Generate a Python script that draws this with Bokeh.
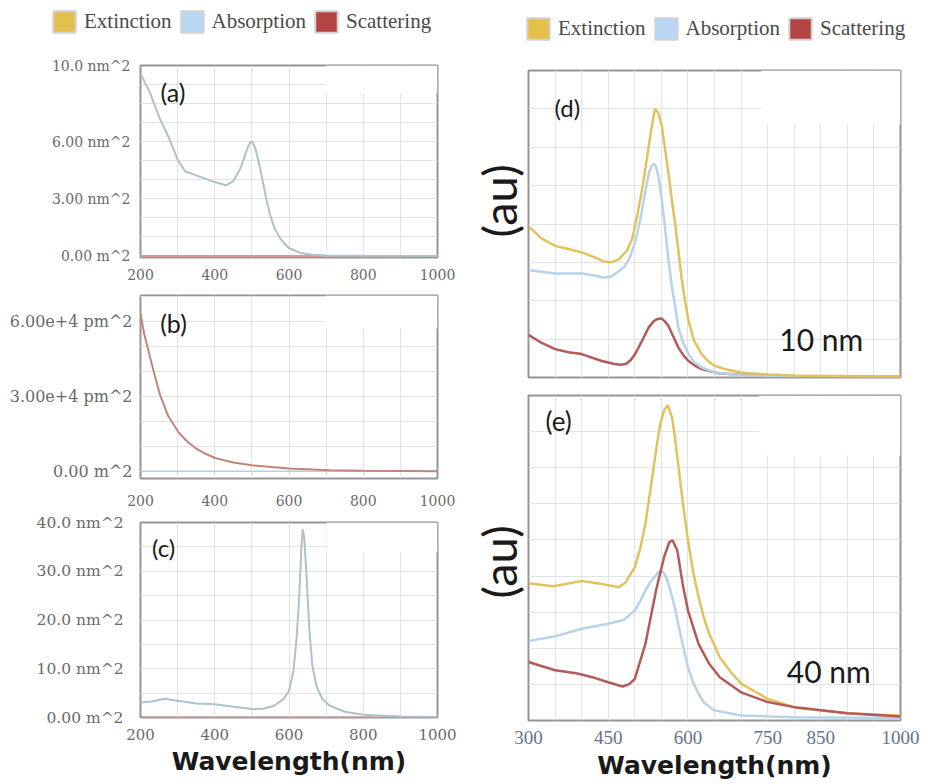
from bokeh.plotting import figure
from bokeh.layouts import row, column
from bokeh.models import (Range1d, FixedTicker, SingleIntervalTicker, Legend, LegendItem,
                          Label, BoxAnnotation, Title)
from bokeh.embed import file_html
from bokeh.resources import INLINE

# ---------------- data ----------------
series_names = ["Extinction", "Absorption", "Scattering"]

# panel (a)
a_wl = [200, 225, 250, 275, 300, 320, 350, 400, 430, 450, 470, 480, 490, 497, 503, 510, 520,
        530, 540, 550, 560, 575, 590, 600, 630, 660, 700, 800, 1000]
a_abs = [9.57, 8.6, 7.3, 6.27, 5.06, 4.45, 4.23, 3.88, 3.71, 3.93, 4.63, 5.2, 5.75, 6.0, 5.95, 5.6, 4.8,
         3.85, 2.9, 2.1, 1.5, 0.95, 0.6, 0.42, 0.17, 0.07, 0.03, 0.01, 0.0]
a_sca_wl = [200, 1000]
a_sca = [0.0, 0.0]
a_yticks = [0, 3, 6, 10]
a_ylabels = ["0.00 m^2", "3.00 nm^2", "6.00 nm^2", "10.0 nm^2"]

# panel (b)
b_wl = [200, 210, 227, 240, 253, 275, 302, 325, 350, 375, 401, 450, 500, 600, 710, 800, 900, 1000]
b_sca = [63000, 55000, 45000, 37500, 30400, 22000, 15700, 12000, 9100, 7000, 5300, 3500, 2400,
         1100, 400, 200, 100, 0]
b_abs_wl = [200, 1000]
b_abs = [0.0, 0.0]
b_yticks = [0, 30000, 60000]
b_ylabels = ["0.00 m^2", "3.00e+4 pm^2", "6.00e+4 pm^2"]

# panel (c)
c_wl = [200, 230, 265, 300, 350, 400, 450, 500, 530, 560, 585, 600, 612, 620, 627, 633, 637, 641,
        647, 655, 663, 675, 690, 710, 750, 800, 900, 1000]
c_abs = [3.09, 3.3, 3.84, 3.43, 2.88, 2.74, 2.2, 1.72, 1.78, 2.4, 3.77, 5.49, 9.6, 15.8, 24.0, 34.3,
         38.6, 37.0, 29.5, 17.8, 10.6, 6.2, 3.8, 2.4, 1.17, 0.55, 0.2, 0.12]
c_sca_wl = [200, 1000]
c_sca = [0.0, 0.0]
c_yticks = [0, 10, 20, 30, 40]
c_ylabels = ["0.00 m^2", "10.0 nm^2", "20.0 nm^2", "30.0 nm^2", "40.0 nm^2"]

abc_xticks = [200, 400, 600, 800, 1000]

# panel (d) 10 nm
d_ext_wl = [300, 325, 350, 375, 400, 425, 440, 455, 470, 485, 495, 505, 515, 525, 532, 538, 544, 551,
            557, 563, 570, 576, 582, 588, 595, 601, 612, 626, 640, 651, 675, 700, 750, 800, 900, 1000]
d_ext = [3.94, 3.62, 3.43, 3.35, 3.26, 3.13, 3.03, 3.0, 3.08, 3.3, 3.6, 4.25, 5.0, 5.9, 6.55, 7.0, 6.9,
         6.55, 5.95, 5.35, 4.6, 4.0, 3.3, 2.6, 1.95, 1.48, 0.95, 0.6, 0.4, 0.3, 0.2, 0.13, 0.08, 0.05,
         0.03, 0.02]
d_abs_wl = [300, 350, 400, 425, 442, 455, 465, 480, 490, 500, 510, 518, 526, 531, 535, 540, 545, 551,
            557, 563, 570, 576, 582, 590, 601, 612, 626, 651, 700, 800, 1000]
d_abs = [2.8, 2.71, 2.71, 2.66, 2.6, 2.63, 2.72, 2.88, 3.1, 3.5, 4.1, 4.7, 5.3, 5.5, 5.57, 5.5, 5.2, 4.6,
         3.9, 3.1, 2.35, 1.85, 1.3, 0.95, 0.61, 0.4, 0.26, 0.13, 0.06, 0.03, 0.02]
d_sca_wl = [300, 325, 350, 375, 400, 438, 460, 473, 483, 492, 500, 507, 517, 526, 535, 541, 550, 556,
            563, 572, 582, 592, 601, 613, 626, 657, 700, 800, 1000]
d_sca = [1.11, 0.9, 0.74, 0.66, 0.61, 0.43, 0.36, 0.33, 0.35, 0.45, 0.6, 0.78, 1.05, 1.3, 1.46, 1.52,
         1.54, 1.47, 1.35, 1.08, 0.78, 0.57, 0.43, 0.31, 0.22, 0.11, 0.07, 0.04, 0.02]

# panel (e) 40 nm
e_ext_wl = [300, 346, 400, 435, 470, 483, 500, 510, 520, 530, 540, 547, 555, 562, 570, 575, 580, 590,
            600, 610, 620, 630, 640, 660, 680, 700, 750, 800, 900, 1000]
e_ext = [3.8, 3.72, 3.86, 3.79, 3.69, 3.83, 4.25, 4.75, 5.45, 6.45, 7.48, 8.15, 8.59, 8.73, 8.4, 7.9,
         7.3, 6.09, 4.99, 4.1, 3.42, 2.85, 2.4, 1.75, 1.35, 1.02, 0.6, 0.37, 0.2, 0.14]
e_abs_wl = [300, 350, 400, 450, 480, 500, 510, 520, 530, 540, 545, 550, 555, 560, 567, 575, 582, 590,
            600, 610, 620, 630, 650, 700, 800, 1000]
e_abs = [2.2, 2.33, 2.54, 2.68, 2.79, 3.05, 3.3, 3.6, 3.85, 4.02, 4.12, 4.15, 4.08, 3.92, 3.6, 3.14,
         2.65, 2.12, 1.48, 1.05, 0.74, 0.5, 0.28, 0.14, 0.09, 0.07]
e_sca_wl = [300, 350, 390, 420, 450, 477, 489, 500, 520, 540, 555, 565, 571, 580, 590, 600, 620, 640,
            660, 700, 750, 800, 900, 1000]
e_sca = [1.62, 1.39, 1.31, 1.2, 1.06, 0.94, 1.0, 1.15, 2.12, 3.6, 4.52, 4.94, 4.99, 4.71, 3.79, 3.05,
         2.12, 1.57, 1.2, 0.78, 0.51, 0.37, 0.2, 0.11]
e_xticks = [300, 450, 600, 750, 850, 1000]
e_xlabels = ["300", "450", "600", "750", "850", "1000"]

# ---------------- styles ----------------
EXT = "#e2c25c"
ABS = "#b8d2ec"
SCA = "#b45a5a"
LEG_FILL = ["#e5bf4c", "#b9d7f4", "#b54444"]
GRID = "#e3e3e3"
FRAME = "#959595"
TICK_COLOR = "#6a6a6a"


def base(width, height, xr, yr, ml, mr, mt, mb, xloc="below", yloc="left"):
    p = figure(width=width, height=height, x_range=Range1d(*xr), y_range=Range1d(*yr),
               min_border_left=ml, min_border_right=mr, min_border_top=mt, min_border_bottom=mb,
               x_axis_location=xloc, y_axis_location=yloc, toolbar_location=None,
               output_backend="svg", outline_line_color=FRAME, outline_line_width=2,
               background_fill_color="white", border_fill_color="white")
    p.grid.grid_line_color = GRID
    p.grid.grid_line_width = 1
    for ax in p.axis:
        ax.axis_line_color = None
        ax.major_tick_line_color = None
        ax.minor_tick_line_color = None
        ax.major_label_text_font = "DejaVu Serif"
        ax.major_label_text_color = TICK_COLOR
        ax.major_label_text_font_style = "normal"
    return p


def patch(p, l, r, b, t):
    p.add_layout(BoxAnnotation(left=l, right=r, bottom=b, top=t, fill_color="white", fill_alpha=1.0,
                               line_color=None, level="underlay"))


def legend_fig(width, loc):
    lf = figure(width=width, height=55, x_range=Range1d(0, 1), y_range=Range1d(0, 1), min_border=0,
                x_axis_location=None, y_axis_location=None, toolbar_location=None,
                output_backend="svg", outline_line_color=None, border_fill_color="white",
                background_fill_alpha=0)
    lf.grid.visible = False
    rs = []
    for name, fill, wl, vals in zip(series_names, LEG_FILL, [d_ext_wl, d_abs_wl, d_sca_wl],
                                    [d_ext, d_abs, d_sca]):
        r = lf.quad(left=wl, right=wl, bottom=0, top=vals, fill_color=fill, line_color="#d2d2d2",
                    line_width=2, visible=False)
        rs.append(LegendItem(label=name, renderers=[r]))
    leg = Legend(items=rs, orientation="horizontal", location=loc, glyph_width=28,
                 glyph_height=27, label_standoff=6, spacing=6, padding=0, margin=0,
                 border_line_color=None, background_fill_alpha=0,
                 label_text_font="Liberation Serif", label_text_font_size="21px",
                 label_text_color="#4a4a4a")
    lf.add_layout(leg, "center")
    return lf


def panel_label(p, x, y, text, size):
    p.add_layout(Label(x=x, y=y, text=text, text_font="Lato", text_font_size=size,
                       text_baseline="middle", text_align="left", text_color="#1a1a1a"))


# ---------------- legends ----------------
legL = legend_fig(460, (50, 20))
legR = legend_fig(472, (64, 13))

# ---------------- left column ----------------
pa = base(460, 228, (200, 1000), (-0.08, 10.0), 140, 23, 10, 26)
pa.xgrid.ticker = SingleIntervalTicker(interval=100)
pa.ygrid.ticker = SingleIntervalTicker(interval=1)
pa.xaxis.ticker = FixedTicker(ticks=abc_xticks)
pa.yaxis.ticker = FixedTicker(ticks=a_yticks)
pa.yaxis.major_label_overrides = dict(zip(a_yticks, a_ylabels))
pa.axis.major_label_text_font_size = "14px"
pa.xaxis.major_label_standoff = 5
pa.yaxis.major_label_standoff = 4
patch(pa, 699, 1000, 8.54, 10.0)
pa.line(a_sca_wl, a_sca, line_color="#d49a9a", line_width=2)
pa.line(a_wl, a_abs, line_color="#adc2cd", line_width=2)
panel_label(pa, 254, 8.6, "(a)", "25px")

pb = base(460, 227, (200, 1000), (-2900, 70400), 140, 18, 12, 32)
pb.xgrid.ticker = SingleIntervalTicker(interval=100)
pb.ygrid.ticker = SingleIntervalTicker(interval=10000)
pb.xaxis.ticker = FixedTicker(ticks=abc_xticks)
pb.yaxis.ticker = FixedTicker(ticks=b_yticks)
pb.yaxis.major_label_overrides = dict(zip(b_yticks, b_ylabels))
pb.yaxis.major_label_text_font_size = "16px"
pb.xaxis.major_label_text_font_size = "14px"
pb.xaxis.major_label_standoff = 10
pb.yaxis.major_label_standoff = 2
patch(pb, 698, 1000, 57200, 70400)
pb.line(b_abs_wl, b_abs, line_color="#b7cde3", line_width=1.5)
pb.line(b_wl, b_sca, line_color="#c2857a", line_width=2)
panel_label(pb, 253, 59200, "(b)", "25px")

pc = base(460, 274, (200, 1000), (0, 40), 140, 12, 12, 67)
pc.xgrid.ticker = SingleIntervalTicker(interval=100)
pc.ygrid.ticker = SingleIntervalTicker(interval=5)
pc.xaxis.ticker = FixedTicker(ticks=abc_xticks)
pc.yaxis.ticker = FixedTicker(ticks=c_yticks)
pc.yaxis.major_label_overrides = dict(zip(c_yticks, c_ylabels))
pc.axis.major_label_text_font_size = "15.5px"
pc.xaxis.major_label_text_font_size = "15px"
pc.xaxis.major_label_standoff = 5
pc.yaxis.major_label_standoff = 11
pc.xaxis.axis_label = "Wavelength(nm)"
pc.xaxis.axis_label_text_font = "DejaVu Sans"
pc.xaxis.axis_label_text_font_style = "bold"
pc.xaxis.axis_label_text_font_size = "25px"
pc.xaxis.axis_label_text_color = "#1a1a1a"
pc.xaxis.axis_label_standoff = 4
patch(pc, 701, 1000, 33.9, 40)
pc.line(c_sca_wl, c_sca, line_color="#d49a9a", line_width=2)
pc.line(c_wl, c_abs, line_color="#adc2cd", line_width=2)
panel_label(pc, 231, 34.9, "(c)", "24px")

# ---------------- right column ----------------
pdd = base(472, 330, (300, 1000), (0, 8), 66, 32, 15, 8, xloc=None, yloc=None)
pdd.xgrid.ticker = SingleIntervalTicker(interval=50)
pdd.ygrid.ticker = SingleIntervalTicker(interval=1)
patch(pdd, 738, 1000, 6.6, 8)
pdd.line(d_sca_wl, d_sca, line_color=SCA, line_width=2.5)
pdd.line(d_abs_wl, d_abs, line_color=ABS, line_width=2.5)
pdd.line(d_ext_wl, d_ext, line_color=EXT, line_width=2.5)
panel_label(pdd, 349, 7.03, "(d)", "24px")
pdd.add_layout(Label(x=772, y=1.0, text="10 nm", text_font="Lato", text_font_size="30px",
                     text_baseline="middle", text_align="left", text_color="#1a1a1a"))
pdd.add_layout(Title(text="(au)", align="left", offset=140, vertical_align="bottom", standoff=4,
                     text_font="Lato", text_font_size="47px", text_font_style="normal",
                     text_color="#1a1a1a"), "left")

pe = base(472, 399, (300, 1000), (0, 9), 68, 27, 10, 64, yloc=None)
pe.xgrid.ticker = SingleIntervalTicker(interval=50)
pe.ygrid.ticker = SingleIntervalTicker(interval=1)
pe.xaxis.ticker = FixedTicker(ticks=e_xticks)
pe.xaxis.major_label_overrides = dict(zip(e_xticks, e_xlabels))
pe.xaxis.major_label_text_font = "Liberation Serif"
pe.xaxis.major_label_text_font_size = "19px"
pe.xaxis.major_label_text_color = "#65748a"
pe.xaxis.major_label_standoff = 4
pe.xaxis.axis_label = "Wavelength(nm)"
pe.xaxis.axis_label_text_font = "DejaVu Sans"
pe.xaxis.axis_label_text_font_style = "bold"
pe.xaxis.axis_label_text_font_size = "25px"
pe.xaxis.axis_label_text_color = "#1a1a1a"
pe.xaxis.axis_label_standoff = 4
patch(pe, 734, 1000, 7.34, 9)
pe.line(e_ext_wl, e_ext, line_color=EXT, line_width=2.5)
pe.line(e_abs_wl, e_abs, line_color=ABS, line_width=2.5)
pe.line(e_sca_wl, e_sca, line_color=SCA, line_width=2.5)
panel_label(pe, 332, 8.3, "(e)", "26px")
pe.add_layout(Label(x=786, y=1.36, text="40 nm", text_font="Lato", text_font_size="30px",
                    text_baseline="middle", text_align="left", text_color="#1a1a1a"))
pe.add_layout(Title(text="(au)", align="left", offset=122, vertical_align="bottom", standoff=4,
                    text_font="Lato", text_font_size="47px", text_font_style="normal",
                    text_color="#1a1a1a"), "left")

top = row(legL, legR, spacing=0)
left = column(pa, pb, pc, spacing=0)
right = column(pdd, pe, spacing=0)
layout = column(top, row(left, right, spacing=0), spacing=0)

with open("out.html", "w") as f:
    f.write(file_html(layout, INLINE))
